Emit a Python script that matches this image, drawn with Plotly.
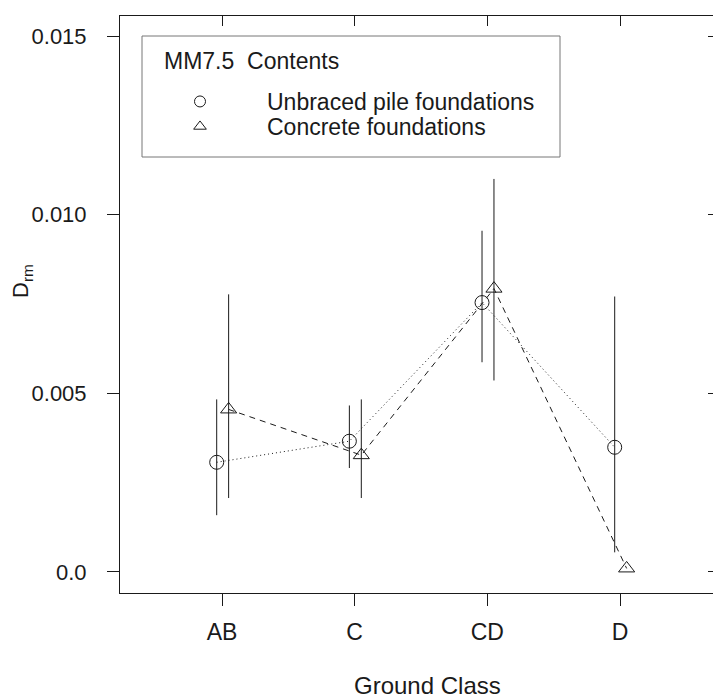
import plotly.graph_objects as go

# Ground classes and estimated mean damage ratios with their intervals
categories = ["AB", "C", "CD", "D"]
unbraced_mean = [0.00307, 0.00366, 0.00754, 0.00349]
unbraced_hi = [0.00483, 0.00466, 0.00955, 0.00771]
unbraced_lo = [0.00159, 0.00291, 0.00587, 0.00055]
concrete_mean = [0.00455, 0.00327, 0.00793, 0.00010]
concrete_hi = [0.00777, 0.00483, 0.01100, 0.00010]
concrete_lo = [0.00207, 0.00207, 0.00536, 0.00010]
y_ticks = [0.0, 0.005, 0.010, 0.015]
y_tick_text = ["0.0", "0.005", "0.010", "0.015"]

W, H = 713, 700
ML, MR, MT, MB = 120, 0, 16, 107
PW, PH = W - ML - MR, H - MT - MB
INK = "#1a1a1a"
FONT = "Liberation Sans, Arial, Helvetica, sans-serif"

pos = list(range(1, len(categories) + 1))
x_range = [0.2312, 4.701]
y_range = [-0.000588, 0.01556]


def px_x(px):
    return (px - ML) / PW


def px_y(py):
    return (H - MB - py) / PH


def err(mean, hi, lo):
    return dict(type="data", symmetric=False,
                array=[h - m for h, m in zip(hi, mean)],
                arrayminus=[m - l for m, l in zip(mean, lo)],
                width=0, thickness=1, color=INK)


fig = go.Figure()
fig.add_trace(go.Scatter(
    x=[p - 0.04 for p in pos], y=unbraced_mean, mode="lines+markers",
    line=dict(color=INK, width=1, dash="1px,3px"),
    marker=dict(symbol="circle-open", size=14, color=INK, line=dict(width=1, color=INK)),
    error_y=err(unbraced_mean, unbraced_hi, unbraced_lo),
    showlegend=False, hoverinfo="skip"))
fig.add_trace(go.Scatter(
    x=[p + 0.05 for p in pos], y=concrete_mean, mode="lines+markers",
    line=dict(color=INK, width=1, dash="6px,5px"),
    marker=dict(symbol="triangle-up-open", size=14, color=INK, line=dict(width=1, color=INK)),
    error_y=err(concrete_mean, concrete_hi, concrete_lo),
    showlegend=False, hoverinfo="skip"))

# key entries (symbol only), one per legend so each row can be placed
fig.add_trace(go.Scatter(
    x=[None], y=[None], mode="markers", name="Unbraced pile foundations",
    legend="legend",
    marker=dict(symbol="circle-open", size=11, color=INK, line=dict(width=1, color=INK))))
fig.add_trace(go.Scatter(
    x=[None], y=[None], mode="markers", name="Concrete foundations",
    legend="legend2",
    marker=dict(symbol="triangle-up-open", size=11, color=INK, line=dict(width=1, color=INK))))

# helper traces so the top and right tick axes get drawn
fig.add_trace(go.Scatter(x=[None], y=[None], xaxis="x2", yaxis="y",
                         showlegend=False, hoverinfo="skip"))
fig.add_trace(go.Scatter(x=[None], y=[None], xaxis="x", yaxis="y2",
                         showlegend=False, hoverinfo="skip"))

key_style = dict(xanchor="left", yanchor="top", bgcolor="rgba(0,0,0,0)",
                 borderwidth=0, font=dict(size=23, color=INK), itemwidth=124)

fig.update_layout(
    width=W, height=H,
    margin=dict(l=ML, r=MR, t=MT, b=MB, autoexpand=False),
    paper_bgcolor="white", plot_bgcolor="white",
    font=dict(family=FONT, size=22, color=INK),
    xaxis=dict(range=x_range, tickmode="array", tickvals=pos, ticktext=categories,
               showgrid=False, zeroline=False, showline=True, linecolor=INK, linewidth=1,
               mirror=True, ticks="outside", ticklen=12, tickcolor=INK,
               ticklabelstandoff=6, tickfont=dict(size=23)),
    xaxis2=dict(range=x_range, overlaying="x", side="top", anchor="y",
                tickmode="array", tickvals=pos, showticklabels=False,
                showgrid=False, zeroline=False, showline=False,
                ticks="inside", ticklen=10, tickcolor=INK),
    yaxis=dict(range=y_range, tickmode="array", tickvals=y_ticks, ticktext=y_tick_text,
               showgrid=False, zeroline=False, showline=True, linecolor=INK, linewidth=1,
               mirror=False, ticks="outside", ticklen=12, tickcolor=INK,
               ticklabelstandoff=16, tickfont=dict(size=22)),
    yaxis2=dict(range=y_range, overlaying="y", side="right", anchor="x",
                tickmode="array", tickvals=y_ticks, showticklabels=False,
                showgrid=False, zeroline=False, showline=False,
                ticks="inside", ticklen=5, tickcolor=INK),
    legend=dict(x=px_x(133), y=px_y(80), **key_style),
    legend2=dict(x=px_x(133), y=px_y(105), **key_style),
    shapes=[dict(type="rect", xref="paper", yref="paper",
                 x0=px_x(142), x1=px_x(560), y0=px_y(157), y1=px_y(36),
                 line=dict(color="#777777", width=1), fillcolor="rgba(0,0,0,0)",
                 layer="above")],
    annotations=[
        dict(text="MM7.5\u00a0 Contents", xref="paper", yref="paper",
             x=px_x(162), y=px_y(61), xanchor="left", yanchor="middle",
             showarrow=False, font=dict(size=23, color=INK)),
        dict(text="Ground Class", xref="paper", yref="paper",
             x=px_x(427), y=px_y(685), xanchor="center", yanchor="middle",
             showarrow=False, font=dict(size=24, color=INK)),
        dict(text="D<sub>rm</sub>", xref="paper", yref="paper",
             x=px_x(22), y=px_y(281), xanchor="center", yanchor="middle",
             textangle=-90, showarrow=False, font=dict(size=22, color=INK)),
    ],
)

fig.write_html("out.html")
